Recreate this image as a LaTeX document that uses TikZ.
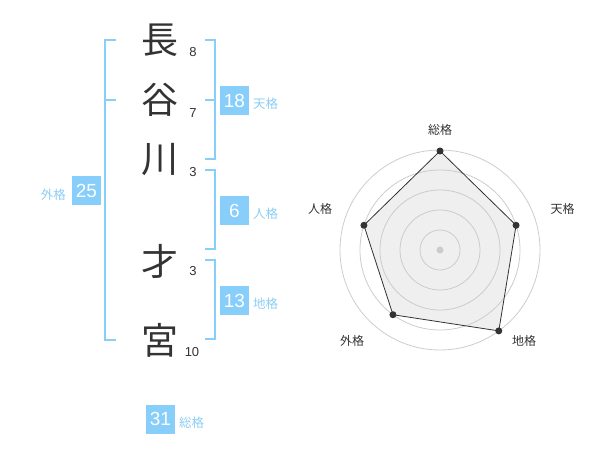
\documentclass[tikz,border=0pt]{standalone}
\usepackage{fontspec}
\setmainfont{Liberation Sans}
\newfontfamily\jp{Noto Sans CJK JP}
\definecolor{sky}{RGB}{135,206,250}
\definecolor{skytext}{RGB}{140,205,245}
\definecolor{ink}{RGB}{51,51,51}
\definecolor{ring}{RGB}{204,204,204}
\definecolor{area}{RGB}{239,239,239}
\tikzset{
  kanji/.style={inner sep=0pt, text=ink, font=\jp\fontsize{37}{37}\selectfont},
  stroke/.style={inner sep=0pt, text=ink, font=\fontsize{13}{13}\selectfont},
  bracket/.style={draw=sky, line width=2pt},
  numbox/.style={fill=sky, minimum width=29pt, minimum height=29pt, inner sep=0pt, text=white, font=\fontsize{19}{19}\selectfont},
  kaku/.style={inner sep=0pt, text=skytext, font=\jp\fontsize{12.5}{12.5}\selectfont},
  axislabel/.style={inner sep=0pt, text=ink, font=\jp\fontsize{12}{12}\selectfont},
  ringline/.style={draw=ring, line width=0.8pt},
  dot/.style={circle, fill=ink, inner sep=0pt, minimum size=7pt},
}
\begin{document}
\begin{tikzpicture}[x=1pt,y=-1pt]
\useasboundingbox (0,0) rectangle (600,470);
% name characters
\node[kanji] (k1) at (160,40) {長};
\node[kanji] (k2) at (160,100) {谷};
\node[kanji] (k3) at (160,160) {川};
\node[kanji] (k4) at (160,261) {才};
\node[kanji] (k5) at (160,340) {宮};
\node[stroke] (n1) at (193,52) {8};
\node[stroke] (n2) at (193,113) {7};
\node[stroke] (n3) at (193,172.5) {3};
\node[stroke] (n4) at (193,271.5) {3};
\node[stroke] (n5) at (192,352.5) {10};
% brackets
\coordinate (la) at (116,40);
\coordinate (lb) at (105,40);
\coordinate (lc) at (105,340);
\coordinate (ld) at (116,340);
\coordinate (lm1) at (105,100);
\coordinate (lm2) at (116,100);
\draw[bracket] (la) -- (lb) -- (lc) -- (ld);
\draw[bracket] (lm1) -- (lm2);
\coordinate (ta) at (205,40);
\coordinate (tb) at (215,40);
\coordinate (tc) at (215,159);
\coordinate (td) at (205,159);
\coordinate (tm1) at (205,100);
\coordinate (tm2) at (215,100);
\draw[bracket] (ta) -- (tb) -- (tc) -- (td);
\draw[bracket] (tm1) -- (tm2);
\coordinate (ja) at (205,170);
\coordinate (jb) at (215,170);
\coordinate (jc) at (215,249);
\coordinate (jd) at (205,249);
\draw[bracket] (ja) -- (jb) -- (jc) -- (jd);
\coordinate (ca) at (205,260);
\coordinate (cb) at (215,260);
\coordinate (cc) at (215,339);
\coordinate (cd) at (205,339);
\draw[bracket] (ca) -- (cb) -- (cc) -- (cd);
% boxes
\node[numbox] (b18) at (234.5,100.5) {18};
\node[kaku, anchor=west] (l18) at (253,104) {天格};
\node[numbox] (b6) at (234.5,210.5) {6};
\node[kaku, anchor=west] (l6) at (253,214) {人格};
\node[numbox] (b13) at (234.5,300.5) {13};
\node[kaku, anchor=west] (l13) at (253,304) {地格};
\node[numbox] (b25) at (86.5,190.5) {25};
\node[kaku, anchor=east] (l25) at (66,195) {外格};
\node[numbox] (b31) at (160.5,419) {31};
\node[kaku, anchor=west] (l31) at (179,423) {総格};
% radar chart
\begin{scope}[shift={(440,250)}]
  \coordinate (ps) at (-90:99);
  \coordinate (pt) at (-18:80);
  \coordinate (pc) at (54:100);
  \coordinate (pg) at (126:80);
  \coordinate (pj) at (198:80);
  \fill[area] (ps) -- (pt) -- (pc) -- (pg) -- (pj) -- cycle;
  \foreach \r in {20,40,60,80,100} \draw[ringline] (0,0) circle[radius=\r];
  \node[circle, fill=ring, inner sep=0pt, minimum size=7pt] (ctr) at (0,0) {};
  \draw[ink, line width=0.8pt] (ps) -- (pt) -- (pc) -- (pg) -- (pj) -- cycle;
  \node[dot] (ds) at (ps) {};
  \node[dot] (dt) at (pt) {};
  \node[dot] (dc) at (pc) {};
  \node[dot] (dg) at (pg) {};
  \node[dot] (dj) at (pj) {};
\end{scope}
\node[axislabel] (as) at (440,130) {総格};
\node[axislabel] (at) at (562.5,209) {天格};
\node[axislabel] (ac) at (524,341) {地格};
\node[axislabel] (ag) at (352,341) {外格};
\node[axislabel] (aj) at (320,209) {人格};
\end{tikzpicture}
\end{document}
